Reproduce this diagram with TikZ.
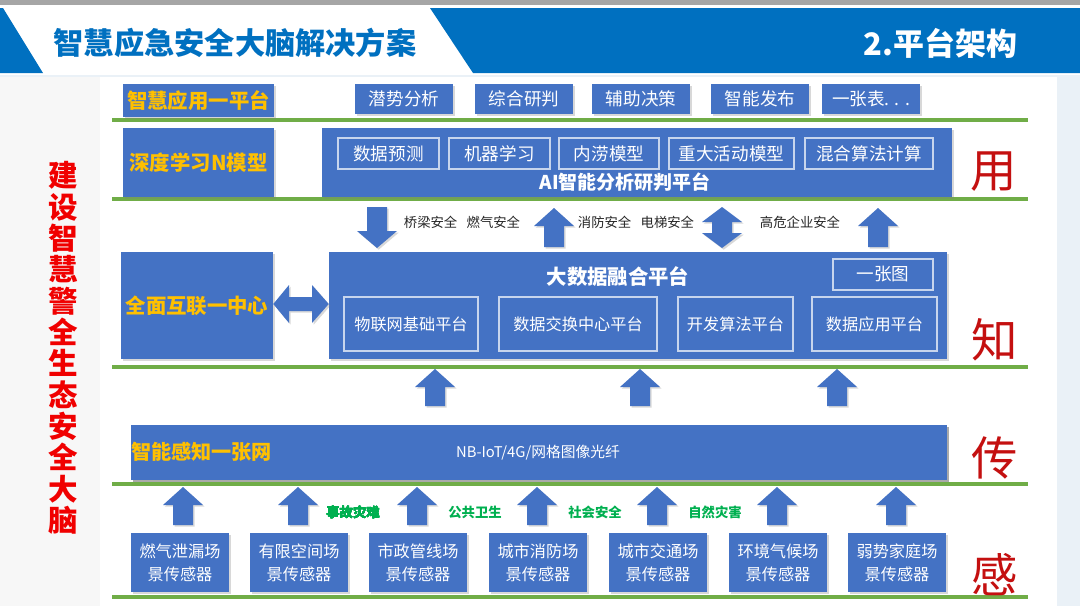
\documentclass[tikz,border=0pt]{standalone}
\usepackage{fontspec}
\setmainfont{Noto Sans CJK SC}
\usepackage{tikz}
\usetikzlibrary{positioning, shadows}
\definecolor{cBlue}{RGB}{68,114,196}
\definecolor{cHead}{RGB}{0,112,192}
\definecolor{cYellow}{RGB}{255,192,0}
\definecolor{cGreen}{RGB}{112,173,71}
\definecolor{cTag}{RGB}{0,176,80}
\definecolor{cRed}{RGB}{196,16,16}
\definecolor{cBright}{RGB}{240,0,0}
\definecolor{cPale}{RGB}{234,241,247}
\tikzset{
    pxbox/.style n args={4}{minimum width={((#3)-(#1))*0.025cm}, minimum height={((#4)-(#2))*0.025cm}, at={({((#1)+(#3))/2},{((#2)+(#4))/2})}},
    bluebox/.style   ={rectangle, fill=cBlue, inner sep=0pt, text=white, font=\fontsize{12.5}{14}\selectfont, drop shadow={shadow xshift=1.2pt, shadow yshift=-1.2pt, opacity=0.3}},
    layerlabel/.style={bluebox, text=cYellow, font=\bfseries\fontsize{14.5}{16}\selectfont},
    innerbox/.style  ={rectangle, draw=white!70!cBlue, line width=0.8pt, inner sep=0pt, text=white, font=\fontsize{12.5}{14}\selectfont},
    sensorbox/.style ={bluebox, align=center, font=\fontsize{11.5}{16.5}\selectfont},
    layerline/.style ={draw=cGreen, line width=2.2pt},
    blockarrow/.style={fill=cBlue, drop shadow={shadow xshift=1.2pt, shadow yshift=-1.2pt, opacity=0.3}},
    flowtag/.style   ={text=black!85, font=\fontsize{9.5}{11}\selectfont},
    greentag/.style  ={text=cTag, font=\bfseries\fontsize{9.5}{11}\selectfont},
    sidechar/.style  ={text=cRed, font=\fontsize{33}{33}\selectfont},
}
% block arrows: x, top y, bottom y
\newcommand{\arrowup}[3]{\fill[blockarrow] (#1-10,#3) -- (#1-10,#2+18) -- (#1-20,#2+18) -- (#1,#2) -- (#1+20,#2+18) -- (#1+10,#2+18) -- (#1+10,#3) -- cycle;}
\newcommand{\arrowdown}[3]{\fill[blockarrow] (#1-10,#2) -- (#1-10,#3-17) -- (#1-20,#3-17) -- (#1,#3) -- (#1+20,#3-17) -- (#1+10,#3-17) -- (#1+10,#2) -- cycle;}
\newcommand{\arrowupdown}[3]{\fill[blockarrow] (#1,#2) -- (#1+20,#2+15) -- (#1+10,#2+15) -- (#1+10,#3-15) -- (#1+20,#3-15) -- (#1,#3) -- (#1-20,#3-15) -- (#1-10,#3-15) -- (#1-10,#2+15) -- (#1-20,#2+15) -- cycle;}

\begin{document}
\begin{tikzpicture}[x=0.025cm, y=-0.025cm]
    \useasboundingbox (0,0) rectangle (1080,606);
    % background and header
    \fill[cPale] (0,0) rectangle (1080,606);
    \fill[black!3] (0,77) rectangle (100,606);
    \fill[white] (100,77) rectangle (1057,606);
    \fill[white] (0,5) rectangle (1080,75);
    \fill[black!35] (0,0) rectangle (1080,5);
    \fill[cHead] (0,8) -- (3,8) -- (43,73) -- (0,73) -- cycle;
    \fill[cHead] (430,8) -- (1080,8) -- (1080,73) -- (473,73) -- cycle;
    \node[text=cHead, font=\bfseries\fontsize{21.5}{24}\selectfont] (title) at (235,43) {智慧应急安全大脑解决方案};
    \node[text=white, anchor=east, font=\bfseries\fontsize{22}{24}\selectfont] (section) at (1022,43) {2.平台架构};

    % vertical slogan
    \node[text=cBright, align=center, font=\bfseries\fontsize{21}{22.3}\selectfont] (slogan) at (63,348)
        {建\\设\\智\\慧\\警\\全\\生\\态\\安\\全\\大\\脑};

    % layer lines
    \foreach \y in {120,199,367,484,597}
        \draw[layerline] (112,\y) -- (1028,\y);

    % use: application layer
    \node[layerlabel, pxbox={123}{84}{274}{117}] (applbl) {智慧应用一平台};
    \foreach \x/\t [count=\i] in {404/潜势分析, 524/综合研判, 641/辅助决策, 760/智能发布, 871/一张表. . .}
        \node[bluebox, pxbox={\x-49}{84}{\x+49}{114}] (app\i) {\t};

    \node[layerlabel, pxbox={123}{128}{274}{197}] (modellbl) {深度学习N模型};
    \node[bluebox, pxbox={322}{128}{952}{197}] (ai) {};
    \foreach \a/\b/\t [count=\i] in {338/439/数据预测, 449/550/机器学习, 559/659/内涝模型, 669/794/重大活动模型, 805/933/混合算法计算}
        \node[innerbox, pxbox={\a}{138}{\b}{169}] (model\i) {\t};
    \node[text=white, font=\bfseries\fontsize{13.5}{15}\selectfont] (aititle) at (625,182) {AI智能分析研判平台};
    \node[sidechar] (yong) at (994,172) {用};

    % know: data layer
    \arrowdown{377}{207}{248}
    \arrowup{554}{208}{247}
    \arrowupdown{722}{207}{248}
    \arrowup{878}{208}{247}
    \node[flowtag] (tag1) at (462,222) {桥梁安全\hspace{0.7em}燃气安全};
    \node[flowtag] (tag2) at (636,222) {消防安全\hspace{0.7em}电梯安全};
    \node[flowtag] (tag3) at (800,222) {高危企业安全};

    \node[layerlabel, pxbox={121}{252}{273}{359}] (linklbl) {全面互联一中心};
    \node[bluebox, pxbox={329}{252}{947}{359}] (hub) {};
    \node[text=white, font=\bfseries\fontsize{14.5}{16}\selectfont] (hubtitle) at (618,277) {大数据融合平台};
    \node[innerbox, pxbox={833}{259}{933}{290}] (map) {一张图};
    \foreach \a/\b/\t [count=\i] in {344/478/物联网基础平台, 499/657/数据交换中心平台, 678/793/开发算法平台, 812/937/数据应用平台}
        \node[innerbox, font=\fontsize{11.5}{13}\selectfont, pxbox={\a}{297}{\b}{351}] (data\i) {\t};
    \fill[blockarrow] (linklbl.east |- 0,304) -- (289,285) -- (289,297) -- (312,297) -- (312,285)
        -- (hub.west |- 0,304) -- (312,323) -- (312,311) -- (289,311) -- (289,323) -- cycle;
    \node[sidechar] (zhi) at (995,340) {知};

    % transfer: network layer
    \foreach \x in {435,640,837}
        \arrowup{\x}{369}{406}
    \node[bluebox, pxbox={131}{425}{947}{480}] (net) {};
    \node[text=cYellow, anchor=west, font=\bfseries\fontsize{14.3}{16}\selectfont, inner sep=0pt] (netlbl) at (131,452) {智能感知一张网};
    \node[text=white, font=\fontsize{10.5}{12}\selectfont] (netkind) at (538,453) {NB-IoT/4G/网格图像光纤};
    \node[sidechar] (chuan) at (995,458) {传};

    % sense: sensor layer
    \foreach \x in {183,298,417,537,657,777,896}
        \arrowup{\x}{487}{525}
    \node[greentag] (risk1) at (353,512) {事故灾难};
    \node[greentag] (risk2) at (475,512) {公共卫生};
    \node[greentag] (risk3) at (595,512) {社会安全};
    \node[greentag] (risk4) at (715,512) {自然灾害};
    \foreach \x/\t [count=\i] in {180/燃气泄漏场, 299/有限空间场, 418/市政管线场, 538/城市消防场, 658/城市交通场, 778/环境气候场, 897/弱势家庭场}
        \node[sensorbox, pxbox={\x-49}{533}{\x+49}{592}] (sensor\i) {\t\\景传感器};
    \node[sidechar] (gan) at (995,575) {感};
\end{tikzpicture}
\end{document}
